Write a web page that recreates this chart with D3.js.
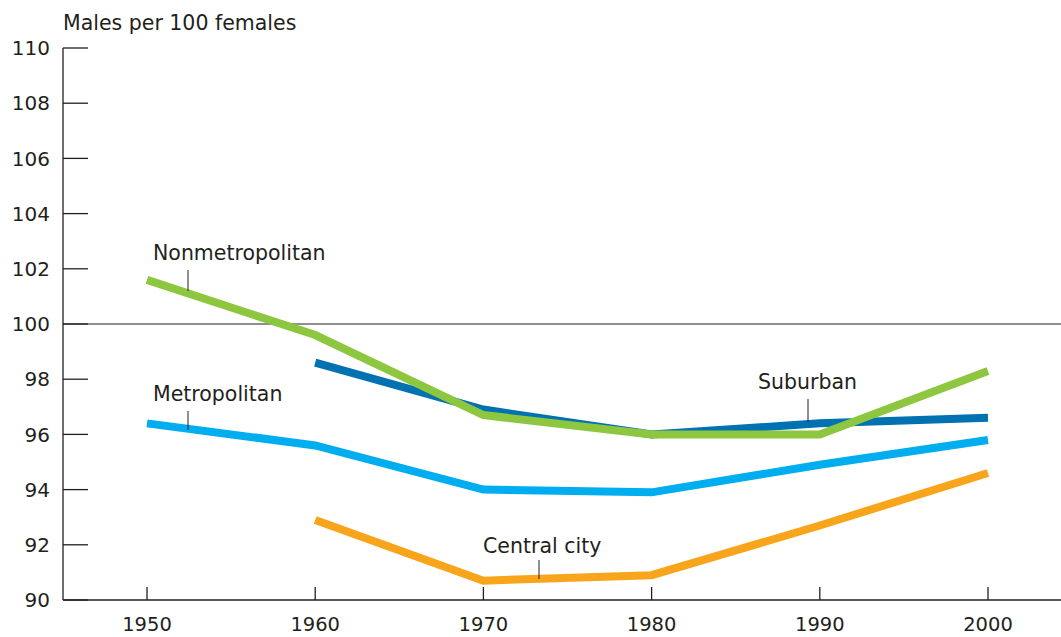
<!DOCTYPE html>
<html>
<head>
<meta charset="utf-8">
<script src="https://cdn.jsdelivr.net/npm/d3@7"></script>
<style>
  html, body { margin: 0; padding: 0; background: #fff; }
  text { font-family: "DejaVu Sans", sans-serif; fill: #231f20; }
</style>
</head>
<body>
<div id="chart"></div>
<script>
const years = [1950, 1960, 1970, 1980, 1990, 2000];
const yTicks = [90, 92, 94, 96, 98, 100, 102, 104, 106, 108, 110];

const nonmetro = [101.6, 99.6, 96.7, 96.0, 96.0, 98.3];
const suburban = [null, 98.6, 96.9, 96.0, 96.4, 96.6];
const metro = [96.4, 95.6, 94.0, 93.9, 94.9, 95.8];
const centralCity = [null, 92.9, 90.7, 90.9, 92.7, 94.6];

const seriesNames = ['Suburban', 'Nonmetropolitan', 'Metropolitan', 'Central city'];
const seriesValues = [suburban, nonmetro, metro, centralCity];
const seriesColors = ['#0071b1', '#8dc63f', '#00aeef', '#f9a51b'];

const width = 1061, height = 637;
const svg = d3.select('#chart').append('svg')
  .attr('width', width)
  .attr('height', height)
  .style('display', 'block');

const x = d3.scaleLinear().domain([1950, 2000]).range([147, 988]);
const y = d3.scaleLinear().domain([90, 110]).range([600, 48]);
const axisLeft = 63;

// y axis
const yAxis = svg.append('g');
yAxis.append('line')
  .attr('x1', axisLeft).attr('x2', axisLeft)
  .attr('y1', y(110)).attr('y2', y(90))
  .attr('stroke', '#231f20').attr('stroke-width', 1.3);
yAxis.selectAll('line.tick')
  .data(yTicks)
  .join('line')
  .attr('class', 'tick')
  .attr('x1', axisLeft).attr('x2', axisLeft + 25)
  .attr('y1', d => y(d)).attr('y2', d => y(d))
  .attr('stroke', '#231f20').attr('stroke-width', 1.3);
yAxis.selectAll('text')
  .data(yTicks)
  .join('text')
  .attr('x', 50)
  .attr('y', d => y(d))
  .attr('dy', '0.36em')
  .attr('text-anchor', 'end')
  .style('font-size', '20px')
  .text(d => d);

// x axis
const xAxis = svg.append('g');
xAxis.append('line')
  .attr('x1', axisLeft).attr('x2', width)
  .attr('y1', y(90)).attr('y2', y(90))
  .attr('stroke', '#231f20').attr('stroke-width', 1.3);
xAxis.selectAll('line.tick')
  .data(years)
  .join('line')
  .attr('class', 'tick')
  .attr('x1', d => x(d)).attr('x2', d => x(d))
  .attr('y1', y(90)).attr('y2', y(90) - 13)
  .attr('stroke', '#231f20').attr('stroke-width', 1.3);
xAxis.selectAll('text')
  .data(years)
  .join('text')
  .attr('x', d => x(d))
  .attr('y', 631)
  .attr('text-anchor', 'middle')
  .style('font-size', '19.5px')
  .text(d => d);

// 100 reference line
svg.append('line')
  .attr('x1', axisLeft).attr('x2', width)
  .attr('y1', y(100)).attr('y2', y(100))
  .attr('stroke', '#231f20').attr('stroke-width', 1.2);

// axis title
svg.append('text')
  .attr('x', 63).attr('y', 30)
  .style('font-size', '20.5px')
  .text('Males per 100 females');

// series lines
const line = d3.line()
  .defined(d => d[1] != null)
  .x(d => x(d[0]))
  .y(d => y(d[1]));

svg.append('g').selectAll('path')
  .data(seriesValues)
  .join('path')
  .attr('d', vals => line(years.map((yr, i) => [yr, vals[i]])))
  .attr('fill', 'none')
  .attr('stroke', (d, i) => seriesColors[i])
  .attr('stroke-width', 8)
  .attr('stroke-linejoin', 'miter');

// labels with leader lines
const labels = [
  { name: 'Nonmetropolitan', tx: 153, ty: 260, lx: 188, l1: 270, l2: 291 },
  { name: 'Metropolitan', tx: 153, ty: 401, lx: 188, l1: 411, l2: 430 },
  { name: 'Suburban', tx: 758, ty: 389, lx: 808, l1: 399, l2: 422 },
  { name: 'Central city', tx: 483, ty: 553, lx: 539, l1: 560, l2: 579 }
];
const lab = svg.append('g').selectAll('g').data(labels).join('g');
lab.append('text')
  .attr('x', d => d.tx).attr('y', d => d.ty)
  .style('font-size', '20.5px')
  .text(d => d.name);
lab.append('line')
  .attr('x1', d => d.lx).attr('x2', d => d.lx)
  .attr('y1', d => d.l1).attr('y2', d => d.l2)
  .attr('stroke', '#231f20').attr('stroke-width', 1);
</script>
</body>
</html>
